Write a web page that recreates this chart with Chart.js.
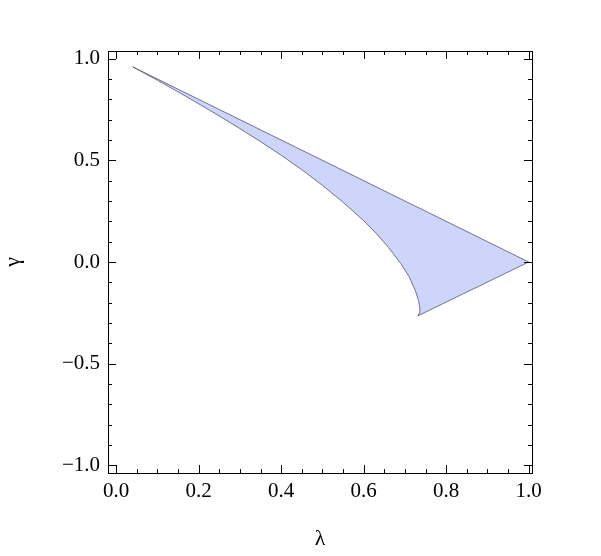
<!DOCTYPE html>
<html>
<head>
<meta charset="utf-8">
<script src="https://cdn.jsdelivr.net/npm/chart.js@4.4.1/dist/chart.umd.min.js"></script>
<style>
  html, body { margin: 0; padding: 0; background: #fff; }
  #wrap { width: 601px; height: 556px; }
</style>
</head>
<body>
<div id="wrap"><canvas id="regionChart" width="601" height="556"></canvas></div>
<script>
// upper edge: straight line gamma = 1 - lambda
const upperLambda = [0.04, 1.0];
const upperGamma = [0.96, 0.0];

// lower edge, from the cusp back up to the tip
const lowerLambda = [0.731, 0.735, 0.736, 0.733, 0.725, 0.71, 0.69, 0.66, 0.63, 0.60, 0.55, 0.50, 0.45, 0.40, 0.35, 0.30, 0.25, 0.20, 0.15, 0.10, 0.04];
const lowerGamma = [-0.265, -0.25, -0.225, -0.19, -0.14, -0.072, -0.008, 0.072, 0.142, 0.203, 0.294, 0.377, 0.454, 0.525, 0.592, 0.656, 0.718, 0.778, 0.837, 0.894, 0.96];

const xTicks = [0, 0.2, 0.4, 0.6, 0.8, 1.0];
const yTicks = [-1.0, -0.5, 0, 0.5, 1.0];
const xMinorStep = 0.05;
const yMinorStep = 0.1;

// closed outline: tip -> (1,0) -> cusp -> curve back to tip
const outline = [];
upperLambda.forEach((l, i) => outline.push({ x: l, y: upperGamma[i] }));
lowerLambda.forEach((l, i) => outline.push({ x: l, y: lowerGamma[i] }));

const serif = "'Liberation Serif', 'DejaVu Serif', serif";

function fmt(v) {
  const s = Math.abs(v).toFixed(1);
  return v < -1e-9 ? '\u2212' + s : s;
}

// frame with inward ticks on all four sides (Mathematica style)
const framePlugin = {
  id: 'frame',
  afterDraw(chart) {
    const { ctx, chartArea: a, scales } = chart;
    const xs = scales.x, ys = scales.y;
    ctx.save();
    ctx.strokeStyle = '#000';
    ctx.lineWidth = 1;
    ctx.strokeRect(Math.round(a.left) + 0.5, Math.round(a.top) + 0.5,
      Math.round(a.right - a.left), Math.round(a.bottom - a.top));
    ctx.beginPath();
    const isMajor = (v, list) => list.some(t => Math.abs(t - v) < 1e-6);
    for (let v = 0; v <= 1.0001; v += xMinorStep) {
      const px = Math.round(xs.getPixelForValue(v)) + 0.5;
      const len = isMajor(v, xTicks) ? 8 : 4;
      ctx.moveTo(px, a.bottom); ctx.lineTo(px, a.bottom - len);
      ctx.moveTo(px, a.top); ctx.lineTo(px, a.top + len);
    }
    for (let v = -1; v <= 1.0001; v += yMinorStep) {
      const py = Math.round(ys.getPixelForValue(v)) + 0.5;
      const len = isMajor(v, yTicks) ? 8 : 4;
      ctx.moveTo(a.left, py); ctx.lineTo(a.left + len, py);
      ctx.moveTo(a.right, py); ctx.lineTo(a.right - len, py);
    }
    ctx.stroke();
    ctx.restore();
  }
};

const ctx = document.getElementById('regionChart').getContext('2d');
new Chart(ctx, {
  type: 'scatter',
  data: {
    datasets: [{
      data: outline,
      showLine: true,
      fill: 'shape',
      backgroundColor: 'rgb(205, 213, 250)',
      borderColor: 'rgba(100, 100, 130, 0.9)',
      borderWidth: 1,
      pointRadius: 0,
      tension: 0
    }]
  },
  options: {
    responsive: false,
    animation: false,
    layout: { padding: { top: 51, right: 69, left: 0, bottom: 0 } },
    plugins: { legend: { display: false }, tooltip: { enabled: false } },
    scales: {
      x: {
        type: 'linear',
        min: -0.02,
        max: 1.008,
        afterBuildTicks: s => { s.ticks = xTicks.map(v => ({ value: v })); },
        afterFit: s => { s.height = 83; },
        grid: { display: false, drawTicks: false },
        border: { display: false },
        ticks: {
          color: '#000',
          padding: 6,
          maxRotation: 0,
          autoSkip: false,
          font: { family: serif, size: 21 },
          callback: v => fmt(v)
        },
        title: {
          display: true,
          text: '\u03bb',
          color: '#000',
          font: { family: serif, size: 22 },
          padding: { top: 0, bottom: 4 }
        }
      },
      y: {
        type: 'linear',
        min: -1.038,
        max: 1.038,
        afterBuildTicks: s => { s.ticks = yTicks.map(v => ({ value: v })); },
        afterFit: s => { s.width = 108; },
        grid: { display: false, drawTicks: false },
        border: { display: false },
        ticks: {
          color: '#000',
          padding: 8,
          autoSkip: false,
          font: { family: serif, size: 21 },
          callback: v => fmt(v)
        },
        title: {
          display: true,
          text: '\u03b3',
          color: '#000',
          font: { family: serif, size: 22 },
          padding: { top: 0, bottom: 0 }
        }
      }
    }
  },
  plugins: [framePlugin]
});
</script>
</body>
</html>
